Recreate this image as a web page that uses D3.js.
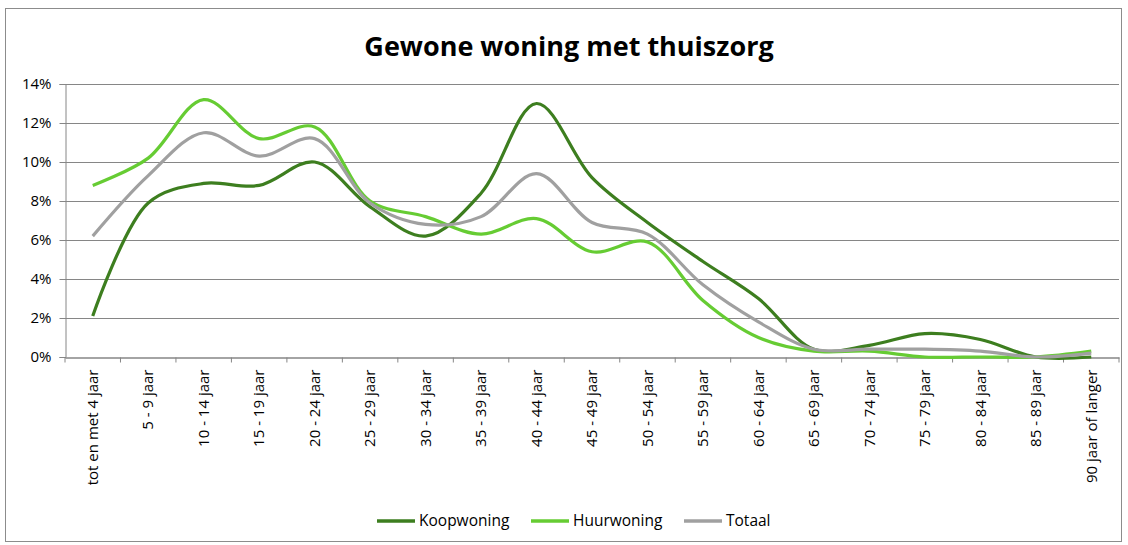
<!DOCTYPE html>
<html>
<head>
<meta charset="utf-8">
<script src="https://cdn.jsdelivr.net/npm/d3@7"></script>
<style>
  body { margin: 0; background: #fff; }
  svg text { font-family: "Open Sans", sans-serif; fill: #000; }
</style>
</head>
<body>
<div id="chart"></div>
<script>
// --- données ---
const categories = ["tot en met 4 jaar", "5 - 9 jaar", "10 - 14 jaar", "15 - 19 jaar", "20 - 24 jaar",
  "25 - 29 jaar", "30 - 34 jaar", "35 - 39 jaar", "40 - 44 jaar", "45 - 49 jaar", "50 - 54 jaar",
  "55 - 59 jaar", "60 - 64 jaar", "65 - 69 jaar", "70 - 74 jaar", "75 - 79 jaar", "80 - 84 jaar",
  "85 - 89 jaar", "90 jaar of langer"];
const koopwoning = [2.1, 7.9, 8.9, 8.8, 10.0, 7.7, 6.2, 8.4, 13.0, 9.2, 6.9, 4.9, 3.0, 0.4, 0.6, 1.2, 0.9, 0.0, 0.0];
const huurwoning = [8.8, 10.2, 13.2, 11.2, 11.8, 8.0, 7.2, 6.3, 7.1, 5.4, 5.9, 2.9, 1.0, 0.3, 0.3, 0.0, 0.0, 0.0, 0.3];
const totaal     = [6.2, 9.3, 11.5, 10.3, 11.2, 7.9, 6.8, 7.2, 9.4, 6.9, 6.3, 3.7, 1.8, 0.4, 0.4, 0.4, 0.3, 0.0, 0.2];
const yTicks = [0, 2, 4, 6, 8, 10, 12, 14];

const series = [
  {name: "Koopwoning", values: koopwoning, color: "#3d7e1f"},
  {name: "Huurwoning", values: huurwoning, color: "#66cc33"},
  {name: "Totaal",     values: totaal,     color: "#a0a0a0"}
];

const W = 1128, H = 545;
const margin = {top: 84, right: 9, bottom: 188, left: 65};
const width = W - margin.left - margin.right;
const height = H - margin.top - margin.bottom;

const root = d3.select("#chart").append("svg").attr("width", W).attr("height", H);

// cadre extérieur
root.append("rect").attr("x", 5.5).attr("y", 8.5).attr("width", 1116).attr("height", 533)
  .attr("fill", "#fff").attr("stroke", "#8c8c8c");

root.append("text").attr("x", 569).attr("y", 56).attr("text-anchor", "middle")
  .style("font-size", "27px").style("font-weight", "bold")
  .text("Gewone woning met thuiszorg");

const svg = root.append("g").attr("transform", `translate(${margin.left},${margin.top})`);

const x = d3.scaleBand().domain(categories).range([0, width]);
const y = d3.scaleLinear().domain([0, 14]).range([height, 0]);

// grille horizontale
svg.selectAll(".grid").data(yTicks.filter(d => d > 0)).join("line")
  .attr("x1", 0).attr("x2", width)
  .attr("y1", d => Math.round(y(d)) + 0.5).attr("y2", d => Math.round(y(d)) + 0.5)
  .attr("stroke", "#868686");

// axe Y
const yAxis = svg.append("g").attr("transform", "translate(0.5,0)")
  .call(d3.axisLeft(y).tickValues(yTicks).tickFormat(d => d + "%").tickSize(6).tickPadding(8));
yAxis.select(".domain").attr("stroke", "#868686");
yAxis.selectAll(".tick line").attr("stroke", "#868686");
yAxis.selectAll("text").style("font-size", "15px");

// axe X
const xAxis = svg.append("g").attr("transform", `translate(0,${Math.round(height) + 0.5})`)
  .call(d3.axisBottom(x).tickSize(0).tickPadding(0));
xAxis.select(".domain").attr("stroke", "#868686").attr("stroke-width", 1.5);
xAxis.selectAll(".tick text")
  .attr("transform", "rotate(-90)")
  .attr("x", -12).attr("y", 0).attr("dy", "0.35em")
  .style("text-anchor", "end").style("font-size", "15px");
// graduations entre catégories
xAxis.selectAll(".sep").data(d3.range(categories.length + 1)).join("line")
  .attr("x1", i => i * x.step()).attr("x2", i => i * x.step())
  .attr("y1", 0).attr("y2", 5).attr("stroke", "#868686");

// courbes
const line = d3.line()
  .x((d, i) => x(categories[i]) + x.bandwidth() / 2)
  .y(d => y(d))
  .curve(d3.curveCatmullRom.alpha(0.5));

series.forEach(s => {
  svg.append("path").datum(s.values)
    .attr("fill", "none").attr("stroke", s.color).attr("stroke-width", 3.2)
    .attr("stroke-linejoin", "round").attr("d", line);
});

// légende
const legendX = [377, 531, 684];
const legend = root.selectAll(".legend").data(series).join("g")
  .attr("transform", (d, i) => `translate(${legendX[i]},521)`);
legend.append("line").attr("x1", 0).attr("x2", 38).attr("y1", 0).attr("y2", 0)
  .attr("stroke", d => d.color).attr("stroke-width", 3.5);
legend.append("text").attr("x", 42).attr("y", 0).attr("dy", "0.35em")
  .style("font-size", "15.5px").text(d => d.name);
</script>
</body>
</html>
